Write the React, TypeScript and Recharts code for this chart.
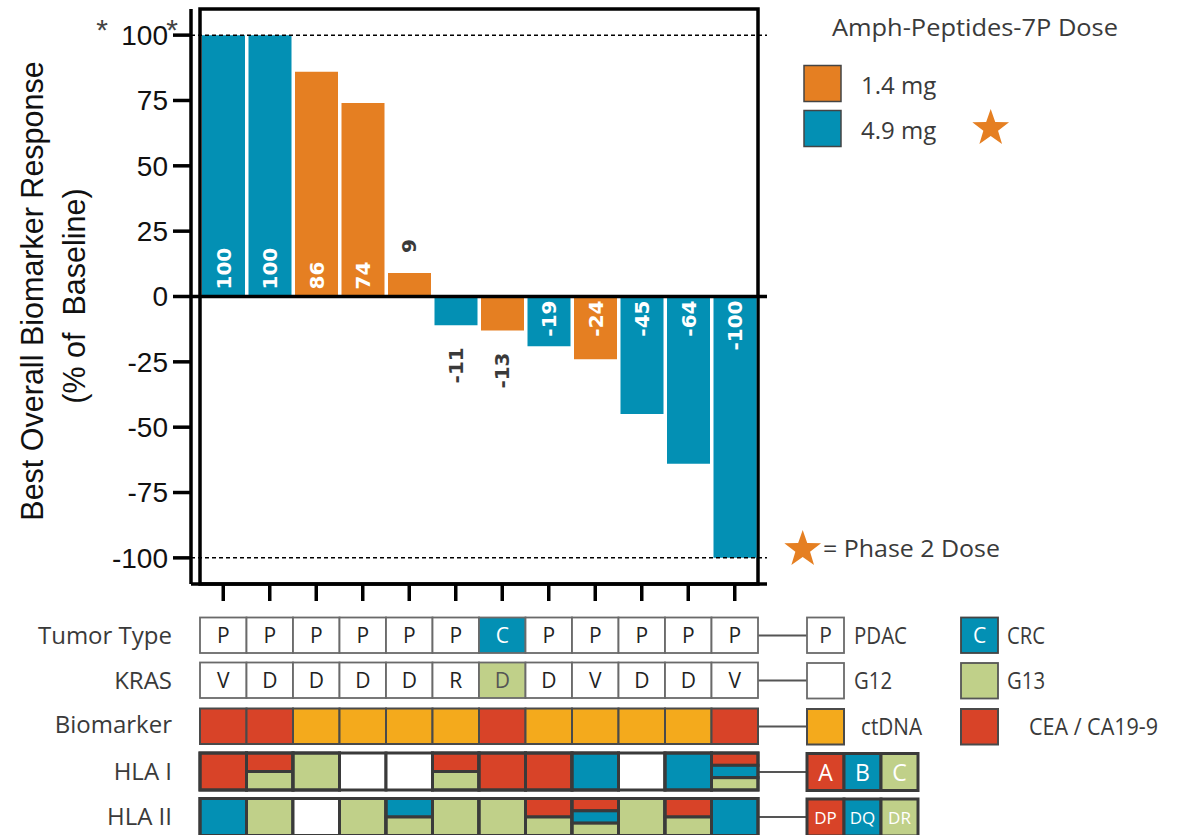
import React from 'react';
import {
  ComposedChart,
  Bar,
  Cell,
  XAxis,
  YAxis,
  ReferenceLine,
  ReferenceArea,
  LabelList,
  Customized,
} from 'recharts';

// ---- data ----
const patients = ['1', '2', '3', '4', '5', '6', '7', '8', '9', '10', '11', '12'];
const responses = [100, 100, 86, 74, 9, -11, -13, -19, -24, -45, -64, -100];
const doses = ['4.9', '4.9', '1.4', '1.4', '1.4', '4.9', '1.4', '4.9', '1.4', '4.9', '4.9', '4.9'];
const yTicks = [100, 75, 50, 25, 0, -25, -50, -75, -100];
const tumorTypes = ['P', 'P', 'P', 'P', 'P', 'P', 'C', 'P', 'P', 'P', 'P', 'P'];
const krasVariants = ['V', 'D', 'D', 'D', 'D', 'R', 'D', 'D', 'V', 'D', 'D', 'V'];
const krasCodons = ['G12', 'G12', 'G12', 'G12', 'G12', 'G12', 'G13', 'G12', 'G12', 'G12', 'G12', 'G12'];
const biomarkers = ['CEA', 'CEA', 'ctDNA', 'ctDNA', 'ctDNA', 'ctDNA', 'CEA', 'ctDNA', 'ctDNA', 'ctDNA', 'ctDNA', 'CEA'];
const hlaClassI = [['A'], ['A', 'C'], ['C'], [], [], ['A', 'C'], ['A'], ['A'], ['B'], [], ['B'], ['A', 'B', 'C']];
const hlaClassII = [['DQ'], ['DR'], [], ['DR'], ['DQ', 'DR'], ['DR'], ['DR'], ['DP', 'DR'], ['DP', 'DQ', 'DR'], ['DR'], ['DP', 'DR'], ['DQ']];

const data = patients.map((patient, i) => ({ patient, response: responses[i], dose: doses[i] }));

// ---- styling ----
const BLUE = '#0390B4';
const ORANGE = '#E57F22';
const RED = '#D84328';
const YELLOW = '#F4AA1C';
const GREEN = '#C0D089';
const TEXT = '#3a3a3a';
const SANS = '"Open Sans", sans-serif';
const ARIAL = '"Liberation Sans", Arial, sans-serif';

const doseColor: Record<string, string> = { '1.4': ORANGE, '4.9': BLUE };
const alleleColor: Record<string, string> = { A: RED, B: BLUE, C: GREEN, DP: RED, DQ: BLUE, DR: GREEN };

const CHART_W = 1188;
const CHART_H = 835;
const MARGIN = { top: 9, right: 421, bottom: 221, left: 0 };
const Y_AXIS_W = 191;
const X_PAD = 9;
const PLOT_W = CHART_W - MARGIN.left - MARGIN.right - Y_AXIS_W;
const BAND = (PLOT_W - 2 * X_PAD) / patients.length;

// annotation rows, offsets measured from the x axis line
const ROWS = {
  tumor: { top: 33.5, h: 35.5 },
  kras: { top: 78.5, h: 35.5 },
  bio: { top: 124.5, h: 35.5 },
  hla1: { top: 169, h: 37 },
  hla2: { top: 214.5, h: 37 },
};

function StackCell({ x, y, w, h, parts }: { x: number; y: number; w: number; h: number; parts: string[] }) {
  const n = parts.length;
  return (
    <g>
      <rect x={x} y={y} width={w} height={h} fill="#fff" />
      {parts.map((p, k) => (
        <rect
          key={p}
          x={x}
          y={y + (k * h) / n}
          width={w}
          height={h / n}
          fill={alleleColor[p]}
          stroke="#3a3a3a"
          strokeWidth={3}
        />
      ))}
      <rect x={x} y={y} width={w} height={h} fill="none" stroke="#3a3a3a" strokeWidth={3} />
    </g>
  );
}

// Each x tick draws its tick mark plus the patient's annotation column
function AnnotationTick(props: any) {
  const { x, y, payload } = props;
  const i: number = payload?.index ?? props.index ?? 0;
  const left = x - BAND / 2;
  const tumor = tumorTypes[i];
  const g13 = krasCodons[i] === 'G13';
  const bio = biomarkers[i];
  return (
    <g>
      <line x1={x} x2={x} y1={y} y2={y + 17} stroke="#000" strokeWidth={3.5} />
      <rect
        x={left}
        y={y + ROWS.tumor.top}
        width={BAND}
        height={ROWS.tumor.h}
        fill={tumor === 'C' ? BLUE : '#fff'}
        stroke="#6a6a6a"
        strokeWidth={1.8}
      />
      <text
        x={x}
        y={y + ROWS.tumor.top + ROWS.tumor.h / 2}
        textAnchor="middle"
        dominantBaseline="central"
        fontFamily={SANS}
        fontSize={21}
        fill={tumor === 'C' ? '#fff' : '#222'}
      >
        {tumor}
      </text>
      <rect
        x={left}
        y={y + ROWS.kras.top}
        width={BAND}
        height={ROWS.kras.h}
        fill={g13 ? GREEN : '#fff'}
        stroke="#6a6a6a"
        strokeWidth={1.8}
      />
      <text
        x={x}
        y={y + ROWS.kras.top + ROWS.kras.h / 2}
        textAnchor="middle"
        dominantBaseline="central"
        fontFamily={SANS}
        fontSize={21}
        fill={g13 ? '#555' : '#222'}
      >
        {krasVariants[i]}
      </text>
      <rect
        x={left}
        y={y + ROWS.bio.top}
        width={BAND}
        height={ROWS.bio.h}
        fill={bio === 'CEA' ? RED : YELLOW}
        stroke="#4a4a4a"
        strokeWidth={2}
      />
      <StackCell x={left} y={y + ROWS.hla1.top} w={BAND} h={ROWS.hla1.h} parts={hlaClassI[i]} />
      <StackCell x={left} y={y + ROWS.hla2.top} w={BAND} h={ROWS.hla2.h} parts={hlaClassII[i]} />
    </g>
  );
}

function BarValueLabel(props: any) {
  const { x, y, width, height, value } = props;
  const v = Number(value);
  const cx = Number(x) + Number(width) / 2;
  const top = Math.min(Number(y), Number(y) + Number(height));
  const bottom = Math.max(Number(y), Number(y) + Number(height));
  const inside = Math.abs(v) >= 15;
  let ty: number;
  let anchor: 'start' | 'end';
  if (v >= 0) {
    ty = inside ? bottom - 7 : top - 20;
    anchor = 'start';
  } else {
    ty = inside ? top + 4 : bottom + 22;
    anchor = 'end';
  }
  return (
    <text
      x={cx}
      y={ty}
      transform={`rotate(-90 ${cx} ${ty})`}
      textAnchor={anchor}
      dominantBaseline="central"
      fill={inside ? '#fff' : TEXT}
      fontFamily='"DejaVu Sans", Verdana, sans-serif'
      fontWeight="bold"
      fontSize={20}
    >
      {v}
    </text>
  );
}

function starPoints(cx: number, cy: number, r: number) {
  const pts: string[] = [];
  for (let k = 0; k < 10; k++) {
    const rad = k % 2 === 0 ? r : r * 0.4;
    const a = -Math.PI / 2 + (k * Math.PI) / 5;
    pts.push(`${(cx + rad * Math.cos(a)).toFixed(2)},${(cy + rad * Math.sin(a)).toFixed(2)}`);
  }
  return pts.join(' ');
}

function LegendBox({ x, y, w, h, fill, stroke, sw, label, labelColor, fontSize }: any) {
  return (
    <g>
      <rect x={x} y={y} width={w} height={h} fill={fill} stroke={stroke} strokeWidth={sw} />
      {label ? (
        <text
          x={x + w / 2}
          y={y + h / 2}
          textAnchor="middle"
          dominantBaseline="central"
          fontFamily={SANS}
          fontSize={fontSize ?? 22}
          fill={labelColor ?? '#fff'}
        >
          {label}
        </text>
      ) : null}
    </g>
  );
}

function Caption({ x, y, w, anchor, children }: any) {
  return (
    <text
      x={x}
      y={y}
      textAnchor={anchor ?? 'start'}
      fontFamily={SANS}
      fontSize={24}
      fill={TEXT}
      textLength={w}
      lengthAdjust={w ? 'spacingAndGlyphs' : undefined}
    >
      {children}
    </text>
  );
}

// Axis title, legends and row captions
function Decorations() {
  const rowLabels = [
    ['Tumor Type', 644.3],
    ['KRAS', 689.3],
    ['Biomarker', 733],
    ['HLA I', 780],
    ['HLA II', 825],
  ] as const;
  const connectorY = [635.5, 680.5, 726.5, 772, 817];
  return (
    <g>
      {/* y axis title */}
      <text
        x={31.5}
        y={291}
        transform="rotate(-90 31.5 291)"
        textAnchor="middle"
        dominantBaseline="central"
        fontFamily={ARIAL}
        fontSize={30.5}
        fill="#111"
      >
        Best Overall Biomarker Response
      </text>
      <text
        x={74}
        y={296}
        transform="rotate(-90 74 296)"
        textAnchor="middle"
        dominantBaseline="central"
        fontFamily={ARIAL}
        fontSize={30.5}
        fill="#111"
        style={{ whiteSpace: 'pre' }}
      >
        (% of  Baseline)
      </text>
      <text x={102} y={40} textAnchor="middle" fontFamily={ARIAL} fontSize={30} fill="#444">*</text>
      <text x={172} y={40} textAnchor="middle" fontFamily={ARIAL} fontSize={30} fill="#444">*</text>

      {/* dose legend */}
      <Caption x={832} y={36} w={286}>Amph-Peptides-7P Dose</Caption>
      <rect x={804} y={65.5} width={37} height={36} fill={ORANGE} stroke="#444" strokeWidth={1.5} />
      <rect x={804} y={110.5} width={37} height={36} fill={BLUE} stroke="#444" strokeWidth={1.5} />
      <Caption x={861} y={93.5}>1.4 mg</Caption>
      <Caption x={861} y={138.5}>4.9 mg</Caption>
      <polygon points={starPoints(990.7, 128.3, 19.3)} fill={ORANGE} />
      <polygon points={starPoints(802.7, 549.3, 19.3)} fill={ORANGE} />
      <Caption x={823} y={557} w={177}>= Phase 2 Dose</Caption>

      {/* annotation row captions */}
      {rowLabels.map(([label, by]) => (
        <Caption key={label} x={172} y={by} anchor="end">
          {label}
        </Caption>
      ))}
      {connectorY.map((cy) => (
        <line key={cy} x1={756} x2={807} y1={cy} y2={cy} stroke="#555" strokeWidth={2} />
      ))}

      {/* annotation legends */}
      <LegendBox x={807} y={617.5} w={37} h={35.5} fill="#fff" stroke="#6a6a6a" sw={1.8} label="P" labelColor="#333" fontSize={21} />
      <Caption x={854} y={643.5} w={53}>PDAC</Caption>
      <LegendBox x={961} y={617.5} w={37} h={35.5} fill={BLUE} stroke="#444" sw={1.8} label="C" fontSize={21} />
      <Caption x={1007} y={643.5} w={38}>CRC</Caption>

      <LegendBox x={807} y={663} w={37} h={35.5} fill="#fff" stroke="#6a6a6a" sw={1.8} />
      <Caption x={854} y={689} w={38}>G12</Caption>
      <LegendBox x={961} y={663} w={37} h={35.5} fill={GREEN} stroke="#555" sw={1.8} />
      <Caption x={1007} y={689} w={38}>G13</Caption>

      <LegendBox x={807} y={709} w={37} h={35.5} fill={YELLOW} stroke="#4a4a4a" sw={2} />
      <Caption x={861} y={735} w={61}>ctDNA</Caption>
      <LegendBox x={961} y={709} w={37} h={35.5} fill={RED} stroke="#4a4a4a" sw={2} />
      <Caption x={1029} y={735} w={129}>CEA / CA19-9</Caption>

      <LegendBox x={807} y={753.5} w={37} h={37} fill={RED} stroke="#3a3a3a" sw={3} label="A" fontSize={23} />
      <LegendBox x={844} y={753.5} w={37} h={37} fill={BLUE} stroke="#3a3a3a" sw={3} label="B" fontSize={23} />
      <LegendBox x={881} y={753.5} w={37} h={37} fill={GREEN} stroke="#3a3a3a" sw={3} label="C" fontSize={23} />

      <LegendBox x={807} y={799} w={37} h={37} fill={RED} stroke="#3a3a3a" sw={3} label="DP" fontSize={17} />
      <LegendBox x={844} y={799} w={37} h={37} fill={BLUE} stroke="#3a3a3a" sw={3} label="DQ" fontSize={17} />
      <LegendBox x={881} y={799} w={37} h={37} fill={GREEN} stroke="#3a3a3a" sw={3} label="DR" fontSize={17} />
    </g>
  );
}

export default function App() {
  return (
    <div style={{ position: 'absolute', left: 0, top: 0, width: CHART_W, height: CHART_H, background: '#fff' }}>
      <ComposedChart width={CHART_W} height={CHART_H} data={data} margin={MARGIN}>
        <ReferenceArea y1={-110} y2={110} fill="none" stroke="#000" strokeWidth={3.5} ifOverflow="visible" />
        <XAxis
          dataKey="patient"
          type="category"
          height={30}
          padding={{ left: X_PAD, right: X_PAD }}
          interval={0}
          tickSize={0}
          tickMargin={0}
          tickLine={false}
          axisLine={{ stroke: '#000', strokeWidth: 3.5 }}
          tick={<AnnotationTick />}
        />
        <YAxis
          type="number"
          domain={[-110, 110]}
          ticks={yTicks}
          interval={0}
          width={Y_AXIS_W}
          tickSize={18}
          tickMargin={5}
          tickLine={{ stroke: '#000', strokeWidth: 3.5 }}
          axisLine={{ stroke: '#000', strokeWidth: 3.5 }}
          tick={{ fontFamily: ARIAL, fontSize: 28, fill: '#111' }}
        />
        <Bar dataKey="response" barSize={43} isAnimationActive={false}>
          {data.map((d) => (
            <Cell key={d.patient} fill={doseColor[d.dose]} />
          ))}
          <LabelList dataKey="response" content={<BarValueLabel />} />
        </Bar>
        <ReferenceLine y={100} stroke="#000" strokeWidth={1.5} strokeDasharray="4 3" />
        <ReferenceLine y={-100} stroke="#000" strokeWidth={1.5} strokeDasharray="4 3" />
        <ReferenceLine y={0} stroke="#000" strokeWidth={3.5} />
        <Customized component={<Decorations />} />
      </ComposedChart>
    </div>
  );
}
